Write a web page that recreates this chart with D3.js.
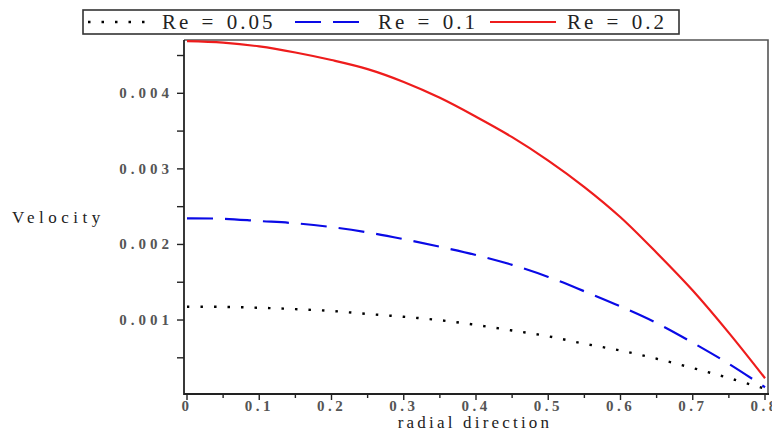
<!DOCTYPE html>
<html>
<head>
<meta charset="utf-8">
<script src="https://cdn.jsdelivr.net/npm/d3@7"></script>
<style>
  html, body { margin: 0; padding: 0; background: #fff; }
  svg { display: block; }
</style>
</head>
<body>
<svg id="chart" width="772" height="431" font-family="'Liberation Serif', 'Times New Roman', 'DejaVu Serif', serif"></svg>
<script>
// Radial positions (0 to 0.8) and velocity profiles for three Reynolds numbers
const radial = [0, 0.05, 0.1, 0.15, 0.2, 0.25, 0.3, 0.35, 0.4, 0.45, 0.5, 0.55, 0.6, 0.65, 0.7, 0.75, 0.8];
const re005 = [0.001176, 0.001174, 0.001162, 0.001144, 0.001120, 0.001080, 0.001043, 0.000998, 0.000935, 0.000862, 0.000785, 0.000686, 0.000597, 0.000488, 0.000365, 0.000232, 0.00009];
const re01  = [0.002345, 0.00234, 0.00231, 0.00228, 0.00223, 0.00216, 0.00207, 0.00197, 0.00186, 0.00173, 0.00157, 0.00138, 0.00118, 0.00096, 0.00070, 0.00042, 0.00011];
const re02  = [0.00469, 0.00467, 0.00462, 0.00454, 0.00444, 0.00432, 0.00415, 0.00394, 0.00369, 0.00342, 0.00311, 0.00276, 0.00236, 0.00189, 0.00139, 0.00083, 0.00023];

const seriesNames = ["Re = 0.05", "Re = 0.1", "Re = 0.2"];
const xTickValues = [0, 0.1, 0.2, 0.3, 0.4, 0.5, 0.6, 0.7, 0.8];
const yTickValues = [0.001, 0.002, 0.003, 0.004];

const styles = [
  { color: "#000000", width: 2.4, dash: "2.5 11" },
  { color: "#0a0ae6", width: 2.2, dash: "26 12" },
  { color: "#ee1c1c", width: 2.2, dash: null }
];
const seriesData = [re005, re01, re02];

const svg = d3.select("#chart");
const plot = { left: 184, right: 768, top: 40, bottom: 394 };

const x = d3.scaleLinear().domain([0, 0.8]).range([187, 765]);
const y = d3.scaleLinear().domain([0, 0.004]).range([395.6, 93.3]);

// plot frame: gray top/right, dark axes left/bottom
svg.append("path")
  .attr("d", `M${plot.left},${plot.top}H${plot.right}V${plot.bottom}`)
  .attr("fill", "none").attr("stroke", "#555").attr("stroke-width", 1.6);

// x axis
const xAxis = svg.append("g").attr("transform", `translate(0,${plot.bottom})`);
xAxis.append("line").attr("x1", plot.left).attr("x2", plot.right + 1)
  .attr("stroke", "#222").attr("stroke-width", 1.8);
const xMinor = d3.range(0, 17).map(i => i * 0.05);
xAxis.selectAll("line.tick").data(xMinor).join("line")
  .attr("class", "tick")
  .attr("x1", d => x(d)).attr("x2", d => x(d))
  .attr("y1", 0).attr("y2", (d, i) => i % 2 === 0 ? 6 : 4)
  .attr("stroke", "#222").attr("stroke-width", 1.4);
xAxis.selectAll("text").data(xTickValues).join("text")
  .attr("x", d => x(d)).attr("y", 17)
  .attr("text-anchor", "middle")
  .attr("font-size", 15).attr("letter-spacing", 3.5)
  .attr("font-weight", "bold")
  .attr("fill", "#555")
  .text(d => String(d));

// y axis
const yAxis = svg.append("g").attr("transform", `translate(${plot.left},0)`);
yAxis.append("line").attr("y1", plot.top).attr("y2", plot.bottom + 1)
  .attr("stroke", "#222").attr("stroke-width", 1.8);
const yMinor = d3.range(1, 10).map(i => i * 0.0005);
yAxis.selectAll("line.tick").data(yMinor).join("line")
  .attr("class", "tick")
  .attr("y1", d => y(d)).attr("y2", d => y(d))
  .attr("x1", 0).attr("x2", -7)
  .attr("stroke", "#222").attr("stroke-width", 1.4);
yAxis.selectAll("text").data(yTickValues).join("text")
  .attr("x", -11).attr("y", d => y(d) + 5)
  .attr("text-anchor", "end")
  .attr("font-size", 15).attr("letter-spacing", 4)
  .attr("font-weight", "bold")
  .attr("fill", "#555")
  .text(d => d3.format(".3f")(d));

// axis titles
svg.append("text").attr("x", 12).attr("y", 223)
  .attr("font-size", 17).attr("letter-spacing", 4.5).attr("fill", "#222")
  .text("Velocity");
svg.append("text").attr("x", 475).attr("y", 428)
  .attr("text-anchor", "middle")
  .attr("font-size", 17).attr("letter-spacing", 3.2).attr("fill", "#222")
  .text("radial direction");

// curves
svg.append("clipPath").attr("id", "plotclip")
  .append("rect").attr("x", plot.left).attr("y", plot.top - 3)
  .attr("width", plot.right - plot.left).attr("height", plot.bottom - plot.top + 3);

const line = d3.line().x(d => x(d[0])).y(d => y(d[1])).curve(d3.curveCatmullRom);
seriesData.forEach((vals, i) => {
  const pts = radial.map((r, j) => [r, vals[j]]);
  svg.append("path")
    .datum(pts)
    .attr("clip-path", "url(#plotclip)")
    .attr("fill", "none")
    .attr("stroke", styles[i].color)
    .attr("stroke-width", styles[i].width)
    .attr("stroke-dasharray", styles[i].dash)
    .attr("d", line);
});

// legend
const legend = svg.append("g");
legend.append("rect").attr("x", 83).attr("y", 10).attr("width", 596).attr("height", 24)
  .attr("fill", "#fff").attr("stroke", "#333").attr("stroke-width", 1.6);
const legendItems = [
  { x1: 88, x2: 152, tx: 162 },
  { x1: 295, x2: 366, tx: 378 },
  { x1: 490, x2: 556, tx: 567 }
];
legendItems.forEach((it, i) => {
  legend.append("line").attr("x1", it.x1).attr("x2", it.x2).attr("y1", 22).attr("y2", 22)
    .attr("stroke", styles[i].color).attr("stroke-width", styles[i].width)
    .attr("stroke-dasharray", styles[i].dash);
  legend.append("text").attr("x", it.tx).attr("y", 29)
    .attr("font-size", 21).attr("letter-spacing", 3).attr("fill", "#222")
    .attr("word-spacing", 2)
    .text(seriesNames[i]);
});
</script>
</body>
</html>
